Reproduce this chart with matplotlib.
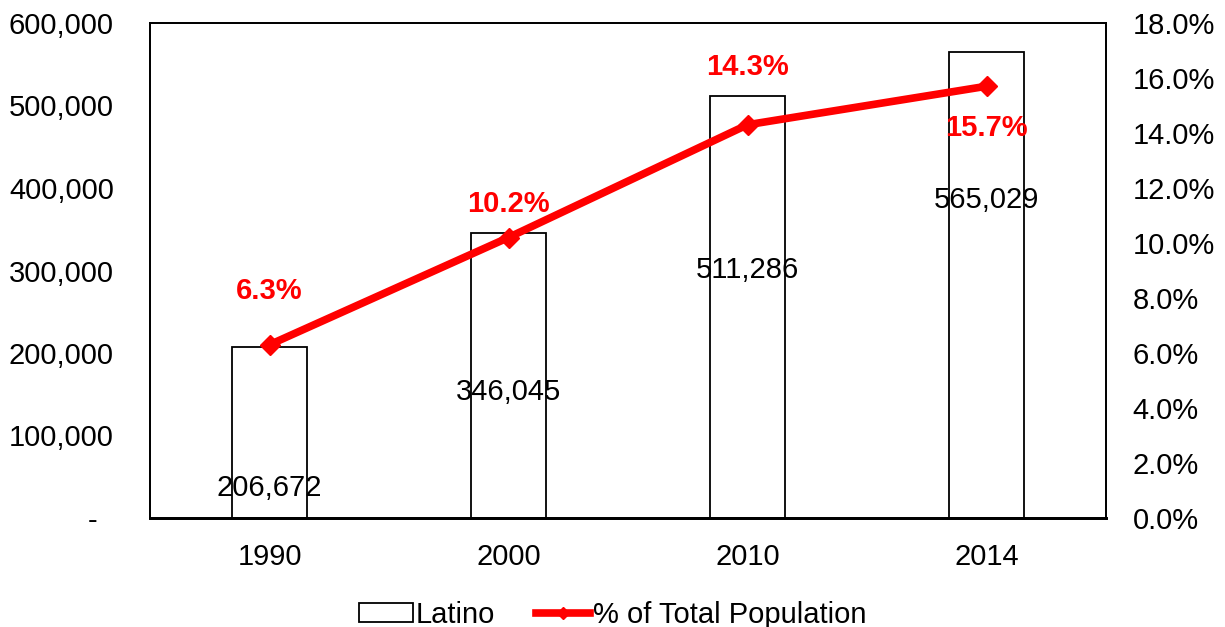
import matplotlib.pyplot as plt
from matplotlib.lines import Line2D
from matplotlib.ticker import FuncFormatter, MultipleLocator

plt.rcParams['font.family'] = ['Liberation Sans', 'DejaVu Sans']

years = ['1990', '2000', '2010', '2014']
latino = [206672, 346045, 511286, 565029]
pct = [6.3, 10.2, 14.3, 15.7]
bar_labels = ['206,672', '346,045', '511,286', '565,029']
pct_labels = ['6.3%', '10.2%', '14.3%', '15.7%']

# label positions (in data units)
bar_label_y = [36000, 152500, 300500, 385500]
pct_label_y = [8.25, 11.4, 16.4, 14.2]

FS = 21

fig = plt.figure(figsize=(12.25, 6.27), dpi=100)
ax = fig.add_axes([150/1225, 1 - 518/627, 956/1225, 495/627])
x = list(range(len(years)))

bars = ax.bar(x, latino, width=0.31, facecolor='white', edgecolor='black',
              linewidth=1.3, label='Latino', zorder=2)
ax.set_xlim(-0.5, 3.5)
ax.set_ylim(0, 600000)
ax.yaxis.set_major_locator(MultipleLocator(100000))
ax.yaxis.set_major_formatter(FuncFormatter(lambda v, p: '-  ' if v == 0 else f'{int(v):,}'))
ax.set_xticks(x)
ax.set_xticklabels(years)
ax.tick_params(length=0, labelsize=FS)
ax.tick_params(axis='x', pad=18)
ax.tick_params(axis='y', pad=26)

for i, t in enumerate(bar_labels):
    ax.text(x[i], bar_label_y[i], t, ha='center', va='center', fontsize=FS, zorder=5)

ax2 = ax.twinx()
line, = ax2.plot(x, pct, color='#ff0000', linewidth=5.5, marker='D', markersize=10,
                 label='% of Total Population', zorder=3)
ax2.set_ylim(0, 18)
ax2.yaxis.set_major_locator(MultipleLocator(2))
ax2.yaxis.set_major_formatter(FuncFormatter(lambda v, p: f'{v:.1f}%'))
ax2.tick_params(length=0, labelsize=FS, pad=19)

for i, t in enumerate(pct_labels):
    ax2.text(x[i], pct_label_y[i], t, ha='center', va='center', fontsize=FS,
             color='#ff0000', fontweight='bold', zorder=5)

for a in (ax, ax2):
    for s in a.spines.values():
        s.set_linewidth(1.3)
        s.set_color('black')
    a.spines['bottom'].set_linewidth(2)

line_handle = Line2D([], [], color='#ff0000', linewidth=5.5, marker='D', markersize=6)
fig.legend([bars, line_handle], ['Latino', '% of Total Population'], loc='lower center',
           bbox_to_anchor=(0.5, -0.045), ncol=2, frameon=False, fontsize=FS,
           handlelength=1.85, handleheight=0.6, handletextpad=0.1, columnspacing=1.4)

fig.savefig('out.png', dpi=100)
